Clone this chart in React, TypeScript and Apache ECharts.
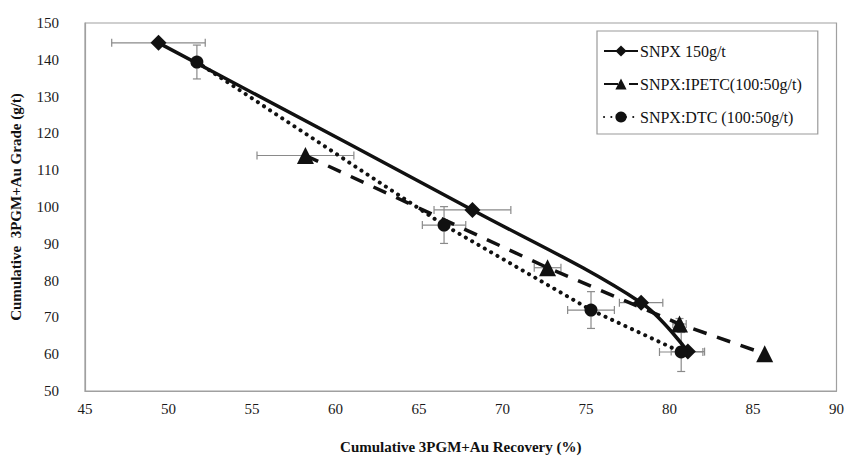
import React, { useEffect, useRef } from "react";
import * as echarts from "echarts";

// Cumulative recovery (%) and grade (g/t) with error half-widths
const snpxRecovery = [49.4, 68.2, 78.3, 81.1];
const snpxGrade = [144.6, 99.2, 74.0, 60.7];
const snpxRecErr = [2.8, 2.3, 1.3, 1.0];
const snpxGradeErr = [0, 0, 0, 0];

const ipetcRecovery = [58.2, 72.7, 80.6, 85.7];
const ipetcGrade = [114.0, 83.5, 68.2, 60.1];
const ipetcRecErr = [2.9, 0.8, 0.4, 0];
const ipetcGradeErr = [0, 0, 1.5, 0];

const dtcRecovery = [51.7, 66.5, 75.3, 80.7];
const dtcGrade = [139.4, 95.1, 72.0, 60.6];
const dtcRecErr = [0, 1.3, 1.4, 1.3];
const dtcGradeErr = [4.6, 5.0, 5.0, 5.3];

const seriesNames = ["SNPX 150g/t", "SNPX:IPETC(100:50g/t)", "SNPX:DTC (100:50g/t)"];
const xTicks = [45, 50, 55, 60, 65, 70, 75, 80, 85, 90];
const yTicks = [50, 60, 70, 80, 90, 100, 110, 120, 130, 140, 150];

const FONT = "'Liberation Serif', 'Times New Roman', serif";
const INK = "#111111";
const ERR = "#8a8a8a";

function pairs(xs: number[], ys: number[]) {
  return xs.map((x, i) => [x, ys[i]]);
}
function errRows(xs: number[], ys: number[], ex: number[], ey: number[]) {
  return xs.map((x, i) => [x, ys[i], ex[i], ey[i]]);
}

function errorSeries(rows: number[][]) {
  return {
    type: "custom",
    silent: true,
    z: 1,
    data: rows,
    renderItem: (params: any, api: any) => {
      const x = api.value(0);
      const y = api.value(1);
      const ex = api.value(2);
      const ey = api.value(3);
      const children: any[] = [];
      const cap = 4;
      const st = { stroke: ERR, lineWidth: 1.2 };
      if (ex > 0) {
        const a = api.coord([x - ex, y]);
        const b = api.coord([x + ex, y]);
        children.push({ type: "line", shape: { x1: a[0], y1: a[1], x2: b[0], y2: b[1] }, style: st });
        children.push({ type: "line", shape: { x1: a[0], y1: a[1] - cap, x2: a[0], y2: a[1] + cap }, style: st });
        children.push({ type: "line", shape: { x1: b[0], y1: b[1] - cap, x2: b[0], y2: b[1] + cap }, style: st });
      }
      if (ey > 0) {
        const a = api.coord([x, y - ey]);
        const b = api.coord([x, y + ey]);
        children.push({ type: "line", shape: { x1: a[0], y1: a[1], x2: b[0], y2: b[1] }, style: st });
        children.push({ type: "line", shape: { x1: a[0] - cap, y1: a[1], x2: a[0] + cap, y2: a[1] }, style: st });
        children.push({ type: "line", shape: { x1: b[0] - cap, y1: b[1], x2: b[0] + cap, y2: b[1] }, style: st });
      }
      return { type: "group", children };
    },
  };
}

export default function App() {
  const ref = useRef<HTMLDivElement>(null);
  useEffect(() => {
    document.body.style.margin = "0";
    if (!ref.current) return;
    const chart = echarts.init(ref.current, undefined, { renderer: "svg" });
    const axisLabel = { fontFamily: FONT, fontSize: 15, color: "#1a1a1a" };
    chart.setOption({
      animation: false,
      backgroundColor: "#ffffff",
      grid: { left: 81, right: 8, top: 23, bottom: 65, show: true, borderColor: "#a0a0a0", borderWidth: 1.2 },
      legend: {
        orient: "vertical",
        left: 597,
        top: 31,
        width: 220,
        padding: [12, 16, 9, 6],
        itemWidth: 34,
        itemHeight: 14,
        itemGap: 17,
        borderColor: "#9a9a9a",
        borderWidth: 1.2,
        backgroundColor: "#fff",
        data: seriesNames,
        textStyle: { fontFamily: FONT, fontSize: 16, color: INK, padding: [0, 0, 0, -3] },
      },
      xAxis: {
        type: "value",
        min: xTicks[0],
        max: xTicks[xTicks.length - 1],
        interval: 5,
        name: "Cumulative 3PGM+Au Recovery (%)",
        nameLocation: "middle",
        nameGap: 48,
        nameTextStyle: { fontFamily: FONT, fontSize: 15, fontWeight: "bold", color: INK },
        axisLine: { show: true, lineStyle: { color: "#a0a0a0", width: 1.2 } },
        axisTick: { show: false },
        splitLine: { show: false },
        axisLabel: { ...axisLabel, margin: 10 },
      },
      yAxis: {
        type: "value",
        min: yTicks[0],
        max: yTicks[yTicks.length - 1],
        interval: 10,
        name: "Cumulative  3PGM+Au Grade (g/t)",
        nameLocation: "middle",
        nameGap: 62,
        nameTextStyle: { fontFamily: FONT, fontSize: 15, fontWeight: "bold", color: INK },
        axisLine: { show: true, lineStyle: { color: "#a0a0a0", width: 1.2 } },
        axisTick: { show: false },
        splitLine: { show: false },
        axisLabel: { ...axisLabel, margin: 26 },
      },
      series: [
        errorSeries(errRows(snpxRecovery, snpxGrade, snpxRecErr, snpxGradeErr)),
        errorSeries(errRows(ipetcRecovery, ipetcGrade, ipetcRecErr, ipetcGradeErr)),
        errorSeries(errRows(dtcRecovery, dtcGrade, dtcRecErr, dtcGradeErr)),
        {
          name: seriesNames[0],
          type: "line",
          z: 3,
          data: pairs(snpxRecovery, snpxGrade),
          smooth: 0.35,
          symbol: "diamond",
          symbolSize: 16,
          itemStyle: { color: INK },
          lineStyle: { color: INK, width: 3.5 },
        },
        {
          name: seriesNames[1],
          type: "line",
          z: 3,
          data: pairs(ipetcRecovery, ipetcGrade),
          symbol: "triangle",
          symbolSize: 17,
          itemStyle: { color: INK },
          lineStyle: { color: INK, width: 3.5, type: [14, 11] },
        },
        {
          name: seriesNames[2],
          type: "line",
          z: 3,
          data: pairs(dtcRecovery, dtcGrade),
          symbol: "circle",
          symbolSize: 13,
          itemStyle: { color: INK },
          lineStyle: { color: INK, width: 4, type: [0.1, 7.2], cap: "round" },
        },
      ],
    });
    return () => chart.dispose();
  }, []);
  return <div ref={ref} style={{ width: 847, height: 459 }} />;
}
